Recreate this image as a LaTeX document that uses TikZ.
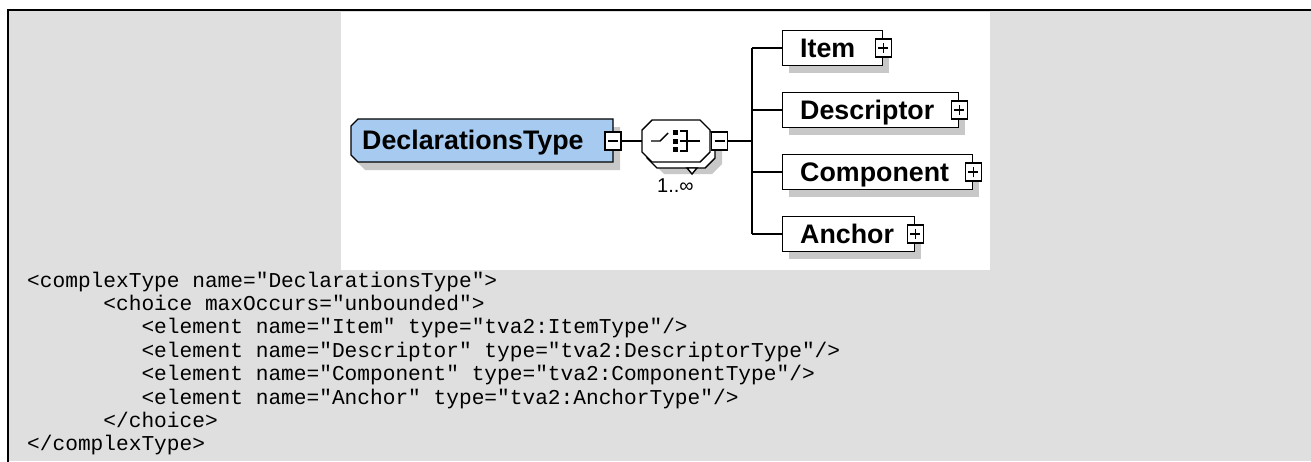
\documentclass[tikz,border=0pt]{standalone}
\usepackage{fontspec}
\setmainfont{Liberation Sans}
\setmonofont{Liberation Mono}
\definecolor{panelgray}{RGB}{223,223,223}
\definecolor{typeblue}{RGB}{166,202,240}
\definecolor{shadowgray}{RGB}{200,200,200}
\tikzset{
  frameline/.style={line width=2.5pt, line cap=rect},
  outl/.style={draw=black, line width=1.4pt},
  conn/.style={line width=1.4pt},
  elembox/.style={draw=black, line width=1.4pt, fill=white, rectangle, inner sep=0, minimum height=35pt, anchor=west},
  shadowbox/.style={fill=shadowgray, draw=none, rectangle, inner sep=0, minimum height=35pt, anchor=west},
  expbox/.style={draw=black, line width=1.2pt, fill=white, rectangle, inner sep=0, minimum width=16pt, minimum height=18pt},
  signline/.style={line width=1.2pt},
  elemlabel/.style={font=\fontsize{26.8}{30}\selectfont\bfseries, anchor=base west, inner sep=0},
  occlabel/.style={font=\fontsize{20}{22}\selectfont, anchor=base west, inner sep=0},
  codeline/.style={font=\fontsize{21.17}{24}\selectfont\ttfamily, anchor=base west, inner sep=0}
}
\begin{document}
\begin{tikzpicture}[x=1pt,y=-1pt]
\useasboundingbox (0,0) rectangle (1311,461);
% panel
\fill[panelgray] (8,10) rectangle (1311,461);
\draw[frameline] (8,461) -- (8,10) -- (1311,10);
\fill[white] (341,11.5) rectangle (990,270);

% DeclarationsType complex type box
\fill[shadowgray] (365,127) -- (620,127) -- (620,170) -- (365,170) -- (358,163) -- (358,134) -- cycle;
\draw[outl, fill=typeblue] (358,119) -- (613,119) -- (613,162) -- (358,162) -- (351,155) -- (351,126) -- cycle;
\node[elemlabel] (decl) at (362,149) {DeclarationsType};
\node[expbox] (declexp) at (613,141) {};
\draw[signline] ([xshift=-5pt]declexp.center) -- ([xshift=5pt]declexp.center);

% choice compositor (stacked, 1..unbounded)
\fill[shadowgray] (664,132) -- (712,132) -- (722,142) -- (722,164) -- (712,174) -- (664,174) -- (654,164) -- (654,142) -- cycle;
\draw[outl, fill=white] (657,126) -- (705,126) -- (715,136) -- (715,158) -- (705,168) -- (657,168) -- (647,158) -- (647,136) -- cycle;
\draw[outl, fill=white] (687,168) -- (697,168) -- (692,174) -- cycle;
\draw[outl, fill=white] (652,120) -- (700,120) -- (710,130) -- (710,152) -- (700,162) -- (652,162) -- (642,152) -- (642,130) -- cycle;
\coordinate (chw) at (642,141);
\coordinate (che) at (710,141);
% choice icon
\draw[conn] (651,141) -- (660,141) -- (668,133);
\fill (673,130) rectangle (678,135);
\fill (673,138.5) rectangle (678,143.5);
\fill (673,147) rectangle (678,152);
\draw[conn] (680,131) -- (687,131) -- (687,151) -- (680,151);
\draw[conn] (680,141) -- (700,141);
\node[occlabel] (occ) at (657,192) {1..∞};
\node[expbox] (chexp) at (719.5,141) {};
\draw[signline] ([xshift=-5pt]chexp.center) -- ([xshift=5pt]chexp.center);

\draw[conn] (declexp.east) -- (chw);

% child elements
\coordinate (busmid) at (752,141);
\draw[conn] (chexp.east) -- (busmid);
\foreach \n/\yy/\w/\t in {item/48/100/Item, desc/110/176/Descriptor, comp/172/190/Component, anch/234/132/Anchor}{
  \node[shadowbox, minimum width=\w pt] (\n-sh) at (789,\yy+7) {};
  \node[elembox, minimum width=\w pt] (\n) at (782,\yy) {};
  \node[elemlabel] (\n-lbl) at (800,\yy+9) {\t};
  \node[expbox] (\n-exp) at (\n.east) {};
  \draw[signline] ([xshift=-5pt]\n-exp.center) -- ([xshift=5pt]\n-exp.center);
  \draw[signline] ([yshift=-5pt]\n-exp.center) -- ([yshift=5pt]\n-exp.center);
  \coordinate (bus-\n) at (752,\yy);
  \draw[conn] (bus-\n) -- (\n.west);
}
\draw[conn] (bus-item) -- (bus-anch);

% schema source
\node[codeline] (c1) at (27,287) {<complexType name="DeclarationsType">};
\node[codeline] (c2) at (103.2,310.4) {<choice maxOccurs="unbounded">};
\node[codeline] (c3) at (141.3,333.8) {<element name="Item" type="tva2:ItemType"/>};
\node[codeline] (c4) at (141.3,357.2) {<element name="Descriptor" type="tva2:DescriptorType"/>};
\node[codeline] (c5) at (141.3,380.6) {<element name="Component" type="tva2:ComponentType"/>};
\node[codeline] (c6) at (141.3,404) {<element name="Anchor" type="tva2:AnchorType"/>};
\node[codeline] (c7) at (103.2,427.4) {</choice>};
\node[codeline] (c8) at (27,450.8) {</complexType>};
\end{tikzpicture}
\end{document}
